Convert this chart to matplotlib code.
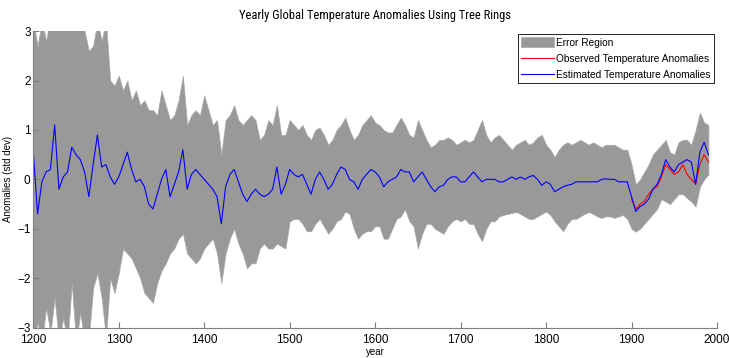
import numpy as np
import matplotlib
matplotlib.use("Agg")
from matplotlib import pyplot as plt
from matplotlib import font_manager

years = list(range(1200, 1995, 5))

estimated = [0.55,-0.7,-0.05,0.15,0.2,1.1,-0.2,0.05,0.15,0.65,
             0.5,0.4,0.15,-0.35,0.3,0.9,0.25,0.3,0.05,-0.1,
             0.05,0.3,0.55,0.2,-0.05,0.0,-0.15,-0.5,-0.6,-0.3,
             0.0,0.2,-0.35,-0.1,0.15,0.6,-0.2,0.1,0.2,0.1,
             0.0,-0.1,-0.2,-0.35,-0.9,-0.15,0.1,0.2,-0.05,-0.3,
             -0.45,-0.3,-0.2,-0.3,-0.35,-0.3,-0.2,0.25,-0.3,-0.1,
             0.2,0.1,0.05,0.1,-0.1,-0.3,0.0,0.15,0.0,-0.2,
             -0.1,0.1,0.25,0.2,0.0,-0.05,-0.2,0.0,0.1,0.2,
             0.15,0.05,-0.15,-0.05,0.0,0.05,0.2,0.15,0.15,-0.05,
             0.05,0.15,0.0,-0.15,-0.25,-0.15,-0.12,0.0,0.05,0.05,
             -0.05,-0.05,0.05,0.15,0.05,-0.05,0.0,0.0,0.0,-0.05,
             -0.05,0.0,0.05,0.0,0.05,0.0,0.05,0.08,0.0,-0.12,
             -0.05,-0.1,-0.25,-0.2,-0.15,-0.12,-0.1,-0.05,-0.05,-0.05,
             -0.05,-0.05,-0.05,0.0,0.01,0.0,0.0,-0.05,-0.05,-0.05,
             -0.35,-0.65,-0.55,-0.5,-0.4,-0.2,-0.1,0.1,0.4,0.25,
             0.15,0.3,0.35,0.4,0.35,-0.1,0.55,0.75,0.5]

upper = [3.2,2.7,3.2,2.8,3.3,3.3,3.3,3.1,3.3,3.2,
         3.3,3.3,3.0,2.6,2.7,3.2,2.8,3.2,2.0,1.9,
         2.1,1.8,2.0,1.6,1.8,1.5,1.6,1.4,1.4,1.3,
         1.8,1.5,1.2,1.3,1.6,2.1,1.1,1.3,1.4,1.3,
         1.7,1.4,1.1,1.2,0.5,1.2,1.3,1.5,1.2,1.1,
         1.2,1.3,1.2,0.8,0.9,1.2,1.1,1.5,0.9,0.9,
         1.2,1.1,1.0,1.1,0.9,0.8,1.0,1.05,0.9,0.7,
         0.8,1.0,1.1,1.25,1.0,0.8,0.9,1.1,1.2,1.3,
         1.15,1.1,1.0,0.95,0.95,1.1,1.25,1.1,0.9,0.85,
         1.2,1.0,0.8,0.65,0.7,0.8,0.8,0.85,0.8,0.7,
         0.75,0.8,0.75,0.8,1.0,1.2,0.9,0.75,0.85,0.9,
         0.8,0.7,0.6,0.7,0.75,0.8,0.7,0.75,0.85,0.9,
         0.7,0.6,0.45,0.6,0.7,0.75,0.7,0.75,0.8,0.75,
         0.7,0.75,0.7,0.65,0.7,0.7,0.7,0.65,0.6,0.6,
         0.3,-0.1,0.0,0.15,0.3,0.5,0.6,0.7,0.8,0.55,
         0.5,0.75,0.8,0.8,0.7,1.0,1.35,1.15,1.1]

lower = [-3.3,-2.9,-3.3,-2.6,-3.1,-2.4,-3.3,-2.8,-3.3,-2.1,
         -3.3,-2.7,-3.3,-3.2,-2.2,-1.9,-2.4,-3.2,-2.0,-2.3,
         -1.9,-1.4,-1.5,-1.6,-1.8,-2.0,-2.3,-2.4,-2.5,-2.1,
         -1.85,-1.7,-1.5,-1.4,-1.2,-1.1,-1.5,-1.6,-1.7,-1.6,
         -1.4,-1.3,-1.2,-1.5,-2.1,-1.5,-1.2,-1.0,-1.3,-1.5,
         -1.8,-1.7,-1.7,-1.4,-1.3,-1.4,-1.4,-1.3,-1.35,-1.4,
         -0.85,-0.8,-0.8,-0.9,-1.05,-1.05,-0.9,-0.8,-0.95,-1.1,
         -1.0,-0.85,-0.8,-0.65,-0.7,-1.0,-1.2,-1.1,-1.05,-1.05,
         -0.95,-0.95,-1.2,-1.2,-1.0,-0.8,-0.75,-0.6,-0.85,-0.95,
         -1.4,-1.1,-0.9,-0.9,-1.0,-1.05,-1.1,-0.95,-0.85,-0.8,
         -0.85,-0.8,-0.9,-0.9,-1.1,-1.25,-1.0,-0.85,-0.85,-0.75,
         -0.72,-0.7,-0.68,-0.66,-0.7,-0.75,-0.8,-0.8,-0.75,-0.7,
         -0.65,-0.72,-0.85,-0.95,-1.05,-0.9,-0.8,-0.8,-0.75,-0.7,
         -0.66,-0.7,-0.75,-0.78,-0.75,-0.75,-0.78,-0.75,-0.72,-0.8,
         -1.0,-1.06,-1.0,-0.9,-0.8,-0.7,-0.6,-0.4,-0.45,-0.5,
         -0.4,-0.3,-0.3,-0.38,-0.45,-0.55,-0.15,0.0,0.1]

obs_years = list(range(1900, 1995, 5))
observed = [-0.4,-0.6,-0.5,-0.45,-0.3,-0.2,-0.15,0.05,0.3,0.2,
            0.1,0.15,0.3,0.1,0.0,-0.1,0.3,0.5,0.35]

plt.rcParams["font.family"] = ["Liberation Sans", "DejaVu Sans"]

# narrow font for the title if one is around
installed = {f.name for f in font_manager.fontManager.ttflist}
narrow = [n for n in ["Liberation Sans Narrow", "Roboto Condensed", "Open Sans Condensed"] if n in installed]
title_kw = dict(family=[narrow[0], "DejaVu Sans"], fontsize=9) if narrow else dict(fontsize=8.5)

fig = plt.figure(figsize=(7.29, 3.58), dpi=100)
ax = fig.add_axes([0.0457, 0.085, 0.9378, 0.828])

ax.fill_between(years, lower, upper, color="#999999", lw=0.5, edgecolor="#a8a8a8", label="Error Region")
ax.plot(obs_years, observed, color="#ff0000", lw=0.8, label="Observed Temperature Anomalies")
ax.plot(years, estimated, color="#0000ff", lw=0.8, label="Estimated Temperature Anomalies")

ax.set_xlim(1200, 2000); ax.set_ylim(-3, 3)
ax.set_xticks(range(1200, 2001, 100)); ax.set_yticks(range(-3, 4))
for s in ["top", "right"]: ax.spines[s].set_visible(False)
for s in ["left", "bottom"]: ax.spines[s].set_color("#808080")
ax.tick_params(direction="in", length=4, color="#808080", labelsize=8.5)
ax.tick_params(axis="x", pad=4.5)
ax.tick_params(axis="y", pad=2)

ax.set_xlabel("year", fontsize=7, labelpad=1)
ax.set_ylabel("Anomalies (std dev)", fontsize=7, labelpad=3)
ax.set_title("Yearly Global Temperature Anomalies Using Tree Rings", pad=9, **title_kw)

leg = ax.legend(loc="upper right", fancybox=False, edgecolor="black", framealpha=1,
                borderpad=0.3, labelspacing=0.6, handlelength=3.2, handleheight=1.1,
                handletextpad=0.25, borderaxespad=0.3, fontsize=7.3)
leg.get_frame().set_linewidth(0.6)

fig.savefig("out.png", dpi=100)
